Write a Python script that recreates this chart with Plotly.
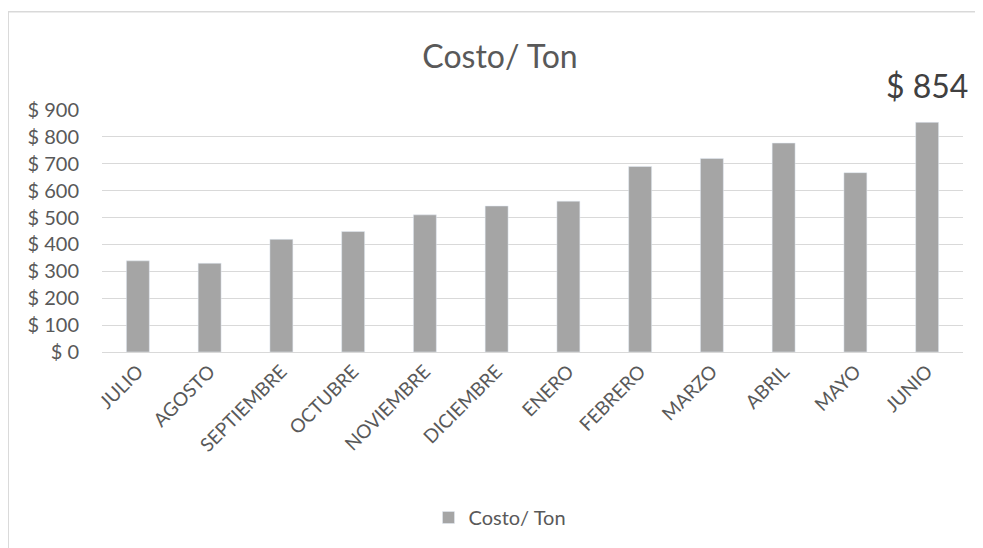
import plotly.graph_objects as go

months = ["JULIO", "AGOSTO", "SEPTIEMBRE", "OCTUBRE", "NOVIEMBRE", "DICIEMBRE",
          "ENERO", "FEBRERO", "MARZO", "ABRIL", "MAYO", "JUNIO"]
costo_ton = [339, 330, 419, 448, 510, 543, 561, 690, 720, 777, 667, 854]
y_ticks = [0, 100, 200, 300, 400, 500, 600, 700, 800, 900]

FONT = "Lato, 'Open Sans', sans-serif"
TXT = "#595959"

# page body has an 8px margin; work in reference pixels and convert
OFF = 8
W, H = 983 - OFF, 548 - OFF
L, T = 102 - OFF, 110 - OFF
R = W - (963 - OFF)
B = H - (352.7 - OFF)
pw, ph = W - L - R, H - T - B

def px_x(p):
    return (p - OFF - L) / pw

def px_y(p):
    return (H - B - (p - OFF)) / ph

fig = go.Figure()
fig.add_trace(go.Bar(
    x=months, y=costo_ton, name="Costo/ Ton",
    marker=dict(color="#a5a5a5"), width=0.32,
))

fig.add_annotation(
    x=months[-1], y=costo_ton[-1], text="$ " + str(costo_ton[-1]),
    showarrow=False, xanchor="center", yanchor="bottom", yshift=15, xshift=0,
    font=dict(family=FONT, size=32, color="#404040"),
)

fig.add_shape(type="rect", xref="paper", yref="paper",
              x0=px_x(8.2), x1=px_x(1000), y0=px_y(580), y1=px_y(11.5),
              line=dict(color="#d9d9d9", width=1.5), layer="below")

fig.update_layout(
    width=W, height=H,
    margin=dict(l=L, r=R, t=T, b=B),
    paper_bgcolor="white", plot_bgcolor="white",
    title=dict(text="Costo/ Ton", xref="container", x=(500 - OFF) / W, xanchor="center",
               yref="container", y=1 - (57 - OFF) / H, yanchor="middle",
               font=dict(family=FONT, size=32, color=TXT)),
    font=dict(family=FONT, color=TXT),
    showlegend=True,
    legend=dict(orientation="h", x=px_x(500), xanchor="center", y=px_y(517), yanchor="middle",
                font=dict(family=FONT, size=20, color=TXT)),
    xaxis=dict(tickangle=-45, tickfont=dict(family=FONT, size=19, color=TXT),
               range=[-0.5, len(months) - 0.5], autorange=False,
               showline=True, linecolor="#d9d9d9", linewidth=1, ticks="", showgrid=False),
    yaxis=dict(range=[0, 900], tickvals=y_ticks, ticktext=["$ " + str(v) for v in y_ticks],
               tickfont=dict(family=FONT, size=20, color=TXT),
               showgrid=True, gridcolor="#d9d9d9", gridwidth=1, zeroline=False,
               showline=False, ticks="", ticklen=0, ticklabelstandoff=22),
)

fig.write_html("out.html")
